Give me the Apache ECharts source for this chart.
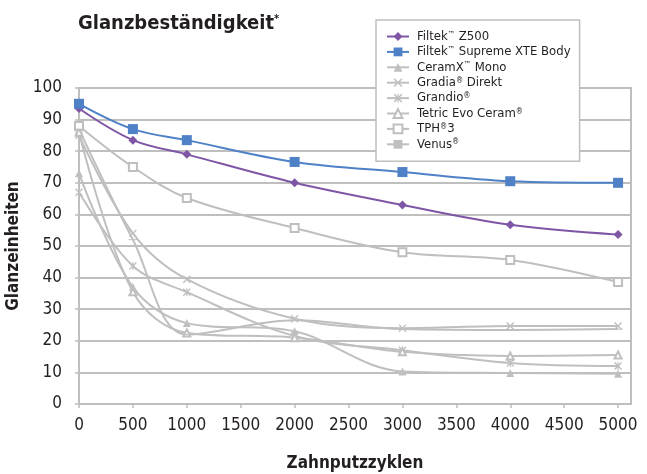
<!DOCTYPE html>
<html><head><meta charset="utf-8">
<script src="https://cdn.jsdelivr.net/npm/echarts@6/dist/echarts.min.js"></script>
<style>html,body{margin:0;padding:0;background:#fff}#c{width:647px;height:474px}</style>
</head><body><div id="c"></div>
<script>
const cycles = [0, 500, 1000, 2000, 3000, 4000, 5000];
const filtekZ500 = [93.5, 83.5, 79, 70, 63, 56.7, 53.6];
const filtekXTE = [95, 87, 83.5, 76.6, 73.4, 70.5, 70];
const ceramX = [73, 37, 25.6, 23, 10.3, 9.8, 9.6];
const gradia = [85, 54, 39.5, 27, 24, 24.7, 24.7];
const grandio = [67, 43.7, 35.4, 21.5, 17, 13, 12];
const tetric = [86, 35.5, 22.5, 21, 16.5, 15.2, 15.5];
const tph3 = [88, 75, 65.2, 55.7, 48, 45.6, 38.6];
const venus = [87, 52, 22, 26.5, 23.7, 23.4, 23.7];
const seriesNames = ['Filtek™ Z500', 'Filtek™ Supreme XTE Body', 'CeramX™ Mono', 'Gradia® Direkt', 'Grandio®', 'Tetric Evo Ceram®', 'TPH®3', 'Venus®'];
const xTickStep = 500;
const xTickMax = 5000;

const FONT = '"Liberation Sans Narrow", "DejaVu Sans Condensed", Arial, sans-serif';
const GRAY = '#bfbfbf';
const xPath = 'path://M0,1.2 L1.2,0 L5,3.8 L8.8,0 L10,1.2 L6.2,5 L10,8.8 L8.8,10 L5,6.2 L1.2,10 L0,8.8 L3.8,5 Z';
const starPath = 'path://M0,1.2 L1.2,0 L5,3.8 L8.8,0 L10,1.2 L6.2,5 L10,8.8 L8.8,10 L5,6.2 L1.2,10 L0,8.8 L3.8,5 Z M4.3,0 L5.7,0 L5.7,10 L4.3,10 Z';
const dashPath = 'path://M0,0 L10,0 L10,3 L0,3 Z';

function pairs(arr) { return cycles.map((c, i) => [c, arr[i]]); }

const defs = [
  { data: filtekZ500, color: '#7f56a6', symbol: 'diamond', size: 9, z: 10 },
  { data: filtekXTE, color: '#4f81c7', symbol: 'rect', size: 10, z: 11 },
  { data: ceramX, color: GRAY, symbol: 'triangle', size: 8 },
  { data: gradia, color: GRAY, symbol: xPath, size: 8 },
  { data: grandio, color: GRAY, symbol: starPath, size: 8 },
  { data: tetric, color: GRAY, symbol: 'emptyTriangle', size: 7 },
  { data: tph3, color: GRAY, symbol: 'emptyRect', size: 8 },
  { data: venus, color: GRAY, symbol: dashPath, size: [9, 3] }
];

const series = defs.map((d, i) => ({
  name: seriesNames[i],
  type: 'line',
  smooth: 0.35,
  data: pairs(d.data),
  symbol: d.symbol,
  symbolSize: d.size,
  symbolKeepAspect: true,
  showAllSymbol: true,
  z: d.z || 2,
  color: d.color,
  lineStyle: { color: d.color, width: 2 },
  itemStyle: { color: d.color, borderWidth: d.symbol.indexOf('empty') === 0 ? 1.5 : 0 },
  emphasis: { disabled: true }
}));

function legendFmt(name) {
  return name.replace(/([™®])/g, '{sup|$1}');
}

const chart = echarts.init(document.getElementById('c'), null, { renderer: 'canvas' });
chart.setOption({
  animation: false,
  backgroundColor: '#fff',
  title: {
    text: 'Glanzbeständigkeit{sup|*}',
    left: 73, top: 9,
    textStyle: { fontFamily: FONT, fontWeight: 'bold', fontSize: 20, color: '#231f20',
      rich: { sup: { fontFamily: FONT, fontWeight: 'bold', fontSize: 11, color: '#231f20', verticalAlign: 'top', padding: [0, 0, 9, 0] } } }
  },
  legend: {
    orient: 'vertical',
    left: 376, top: 20,
    padding: [10, 9, 10, 10],
    itemGap: 1.9,
    itemWidth: 22, itemHeight: 11,
    symbolKeepAspect: true,
    borderColor: GRAY, borderWidth: 1.5,
    backgroundColor: '#fff',
    formatter: legendFmt,
    textStyle: { fontFamily: FONT, fontSize: 13, color: '#231f20', lineHeight: 12, padding: [0, 0, 0, 3],
      rich: { sup: { fontFamily: FONT, fontSize: 8, color: '#231f20', verticalAlign: 'top', lineHeight: 12, padding: [0, 0, 5, 0] } } },
    data: seriesNames
  },
  grid: { left: 79, right: 16, top: 88, bottom: 70, containLabel: false, outerBoundsMode: 'none', show: true, borderColor: GRAY, borderWidth: 2 },
  xAxis: {
    type: 'value', min: 0, max: 5120, interval: xTickStep,
    name: 'Zahnputzzyklen', nameLocation: 'middle', nameGap: 51,
    nameTextStyle: { fontFamily: FONT, fontWeight: 'bold', fontSize: 17, color: '#231f20' },
    axisLine: { show: true, lineStyle: { color: GRAY, width: 2 } },
    axisTick: { show: true, length: 4, lineStyle: { color: GRAY, width: 1.5 } },
    axisLabel: { fontFamily: FONT, fontSize: 17, color: '#231f20', margin: 13,
      showMaxLabel: false,
      formatter: v => (v % xTickStep === 0 && v <= xTickMax) ? String(v) : '' },
    splitLine: { show: false }
  },
  yAxis: {
    type: 'value', min: 0, max: 100, interval: 10,
    name: 'Glanzeinheiten', nameLocation: 'middle', nameGap: 12, nameRotate: 90,
    nameTextStyle: { fontFamily: FONT, fontWeight: 'bold', fontSize: 17, color: '#231f20' },
    axisLine: { show: true, lineStyle: { color: GRAY, width: 2 } },
    axisTick: { show: true, length: 4, lineStyle: { color: GRAY, width: 1.5 } },
    axisLabel: { fontFamily: FONT, fontSize: 17, color: '#231f20', margin: 17 },
    splitLine: { show: true, lineStyle: { color: GRAY, width: 2 } }
  },
  series: series
});
</script></body></html>
